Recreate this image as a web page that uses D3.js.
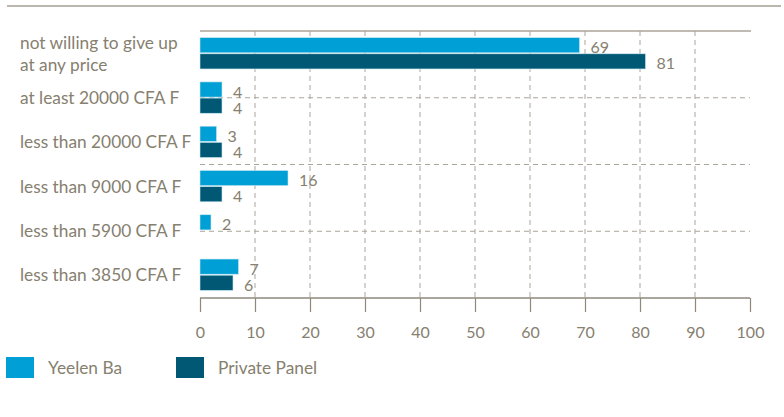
<!DOCTYPE html>
<html>
<head>
  <meta charset="utf-8">
  <script src="https://cdn.jsdelivr.net/npm/d3@7"></script>
  <style>
    body { margin: 0; background: #fff; }
    text { font-family: Lato, "Open Sans", sans-serif; fill: #86806f; }
  </style>
</head>
<body>
<div id="viz"></div>
<script>
// categories top to bottom
var categories = [
  ["not willing to give up", "at any price"],
  ["at least 20000 CFA F"],
  ["less than 20000 CFA F"],
  ["less than 9000 CFA F"],
  ["less than 5900 CFA F"],
  ["less than 3850 CFA F"]
];
var seriesNames = ["Yeelen Ba", "Private Panel"];
var yeelen = [69, 4, 3, 16, 2, 7];
var privatePanel = [81, 4, 4, 4, null, 6];
var xTicks = [0, 10, 20, 30, 40, 50, 60, 70, 80, 90, 100];
var colors = ["#009fd6", "#005875"];

var W = 784, H = 417;
var pLeft = 200, pRight = 750, pTop = 31, pBottom = 298;

var svg = d3.select("#viz").append("svg")
  .attr("width", W).attr("height", H);

var x = d3.scaleLinear().domain([0, 100]).range([pLeft, pRight]);
var y = d3.scaleBand().domain(d3.range(categories.length))
  .range([pTop, pBottom]).paddingInner(0.27).paddingOuter(0.15);
var ySub = d3.scaleBand().domain([0, 1]).range([0, y.bandwidth()]);
// horizontal grid lines come from a 4-division secondary scale
var yGrid = d3.scaleLinear().domain([0, 4]).range([pTop, pBottom]);

// page rule at top
svg.append("line")
  .attr("x1", 7).attr("x2", 781).attr("y1", 6).attr("y2", 6)
  .attr("stroke", "#bbb7ad").attr("stroke-width", 2);

// plot top border
svg.append("line")
  .attr("x1", pLeft).attr("x2", pRight + 1).attr("y1", pTop).attr("y2", pTop)
  .attr("stroke", "#aaa59a").attr("stroke-width", 1.5);

// grid
svg.append("g").selectAll("line")
  .data(xTicks.slice(1, -1)).enter().append("line")
  .attr("x1", function(d){ return x(d); })
  .attr("x2", function(d){ return x(d); })
  .attr("y1", pTop).attr("y2", pBottom)
  .attr("stroke", "#aaa59a").attr("stroke-width", 1)
  .attr("stroke-dasharray", "5,4");

svg.append("g").selectAll("line")
  .data([1, 2, 3]).enter().append("line")
  .attr("x1", pLeft).attr("x2", pRight)
  .attr("y1", function(d){ return yGrid(d); })
  .attr("y2", function(d){ return yGrid(d); })
  .attr("stroke", "#aaa59a").attr("stroke-width", 1)
  .attr("stroke-dasharray", "5,4");

// bars
var series = [yeelen, privatePanel];
series.forEach(function(vals, s) {
  var g = svg.append("g");
  var data = vals.map(function(v, i){ return {v: v, i: i}; })
    .filter(function(d){ return d.v != null; });
  g.selectAll("rect").data(data).enter().append("rect")
    .attr("x", x(0))
    .attr("y", function(d){ return y(d.i) + ySub(s); })
    .attr("width", function(d){ return x(d.v) - x(0); })
    .attr("height", ySub.bandwidth() - 1)
    .attr("fill", colors[s])
    .attr("stroke", "#c9e6f0").attr("stroke-width", 0.6);
  g.selectAll("text").data(data).enter().append("text")
    .attr("x", function(d){ return x(d.v) + 11; })
    .attr("y", function(d){ return y(d.i) + ySub(s) + ySub.bandwidth() / 2 + 2; })
    .attr("dy", "0.35em")
    .attr("font-size", 16)
    .text(function(d){ return d.v; });
});

// category labels
var labels = svg.append("g");
categories.forEach(function(lines, i) {
  var cy = y(i) + y.bandwidth() / 2;
  var t = labels.append("text")
    .attr("x", 20).attr("font-size", 17.3);
  lines.forEach(function(l, k) {
    t.append("tspan").attr("x", 20)
      .attr("y", cy + (k - (lines.length - 1) / 2) * 22)
      .attr("dy", "0.35em")
      .text(l);
  });
});

// bottom axis
var xAxis = d3.axisBottom(x).tickValues(xTicks).tickSize(14).tickPadding(15);
var ax = svg.append("g").attr("transform", "translate(0," + pBottom + ")").call(xAxis);
ax.select(".domain").attr("stroke", "#8e897c").attr("stroke-width", 1.5)
  .attr("d", "M" + pLeft + ",0H" + pRight);
ax.selectAll(".tick line").attr("stroke", "#8e897c").attr("stroke-width", 1.2);
ax.selectAll(".tick text").attr("font-size", 16)
  .style("font-family", "Lato, 'Open Sans', sans-serif").attr("fill", "#86806f");

// legend
var legendX = [6, 176];
seriesNames.forEach(function(n, s) {
  svg.append("rect")
    .attr("x", legendX[s]).attr("y", 357).attr("width", 28).attr("height", 21)
    .attr("fill", colors[s]);
  svg.append("text")
    .attr("x", legendX[s] + 42).attr("y", 368).attr("dy", "0.35em")
    .attr("font-size", 17.3).text(n);
});
</script>
</body>
</html>
